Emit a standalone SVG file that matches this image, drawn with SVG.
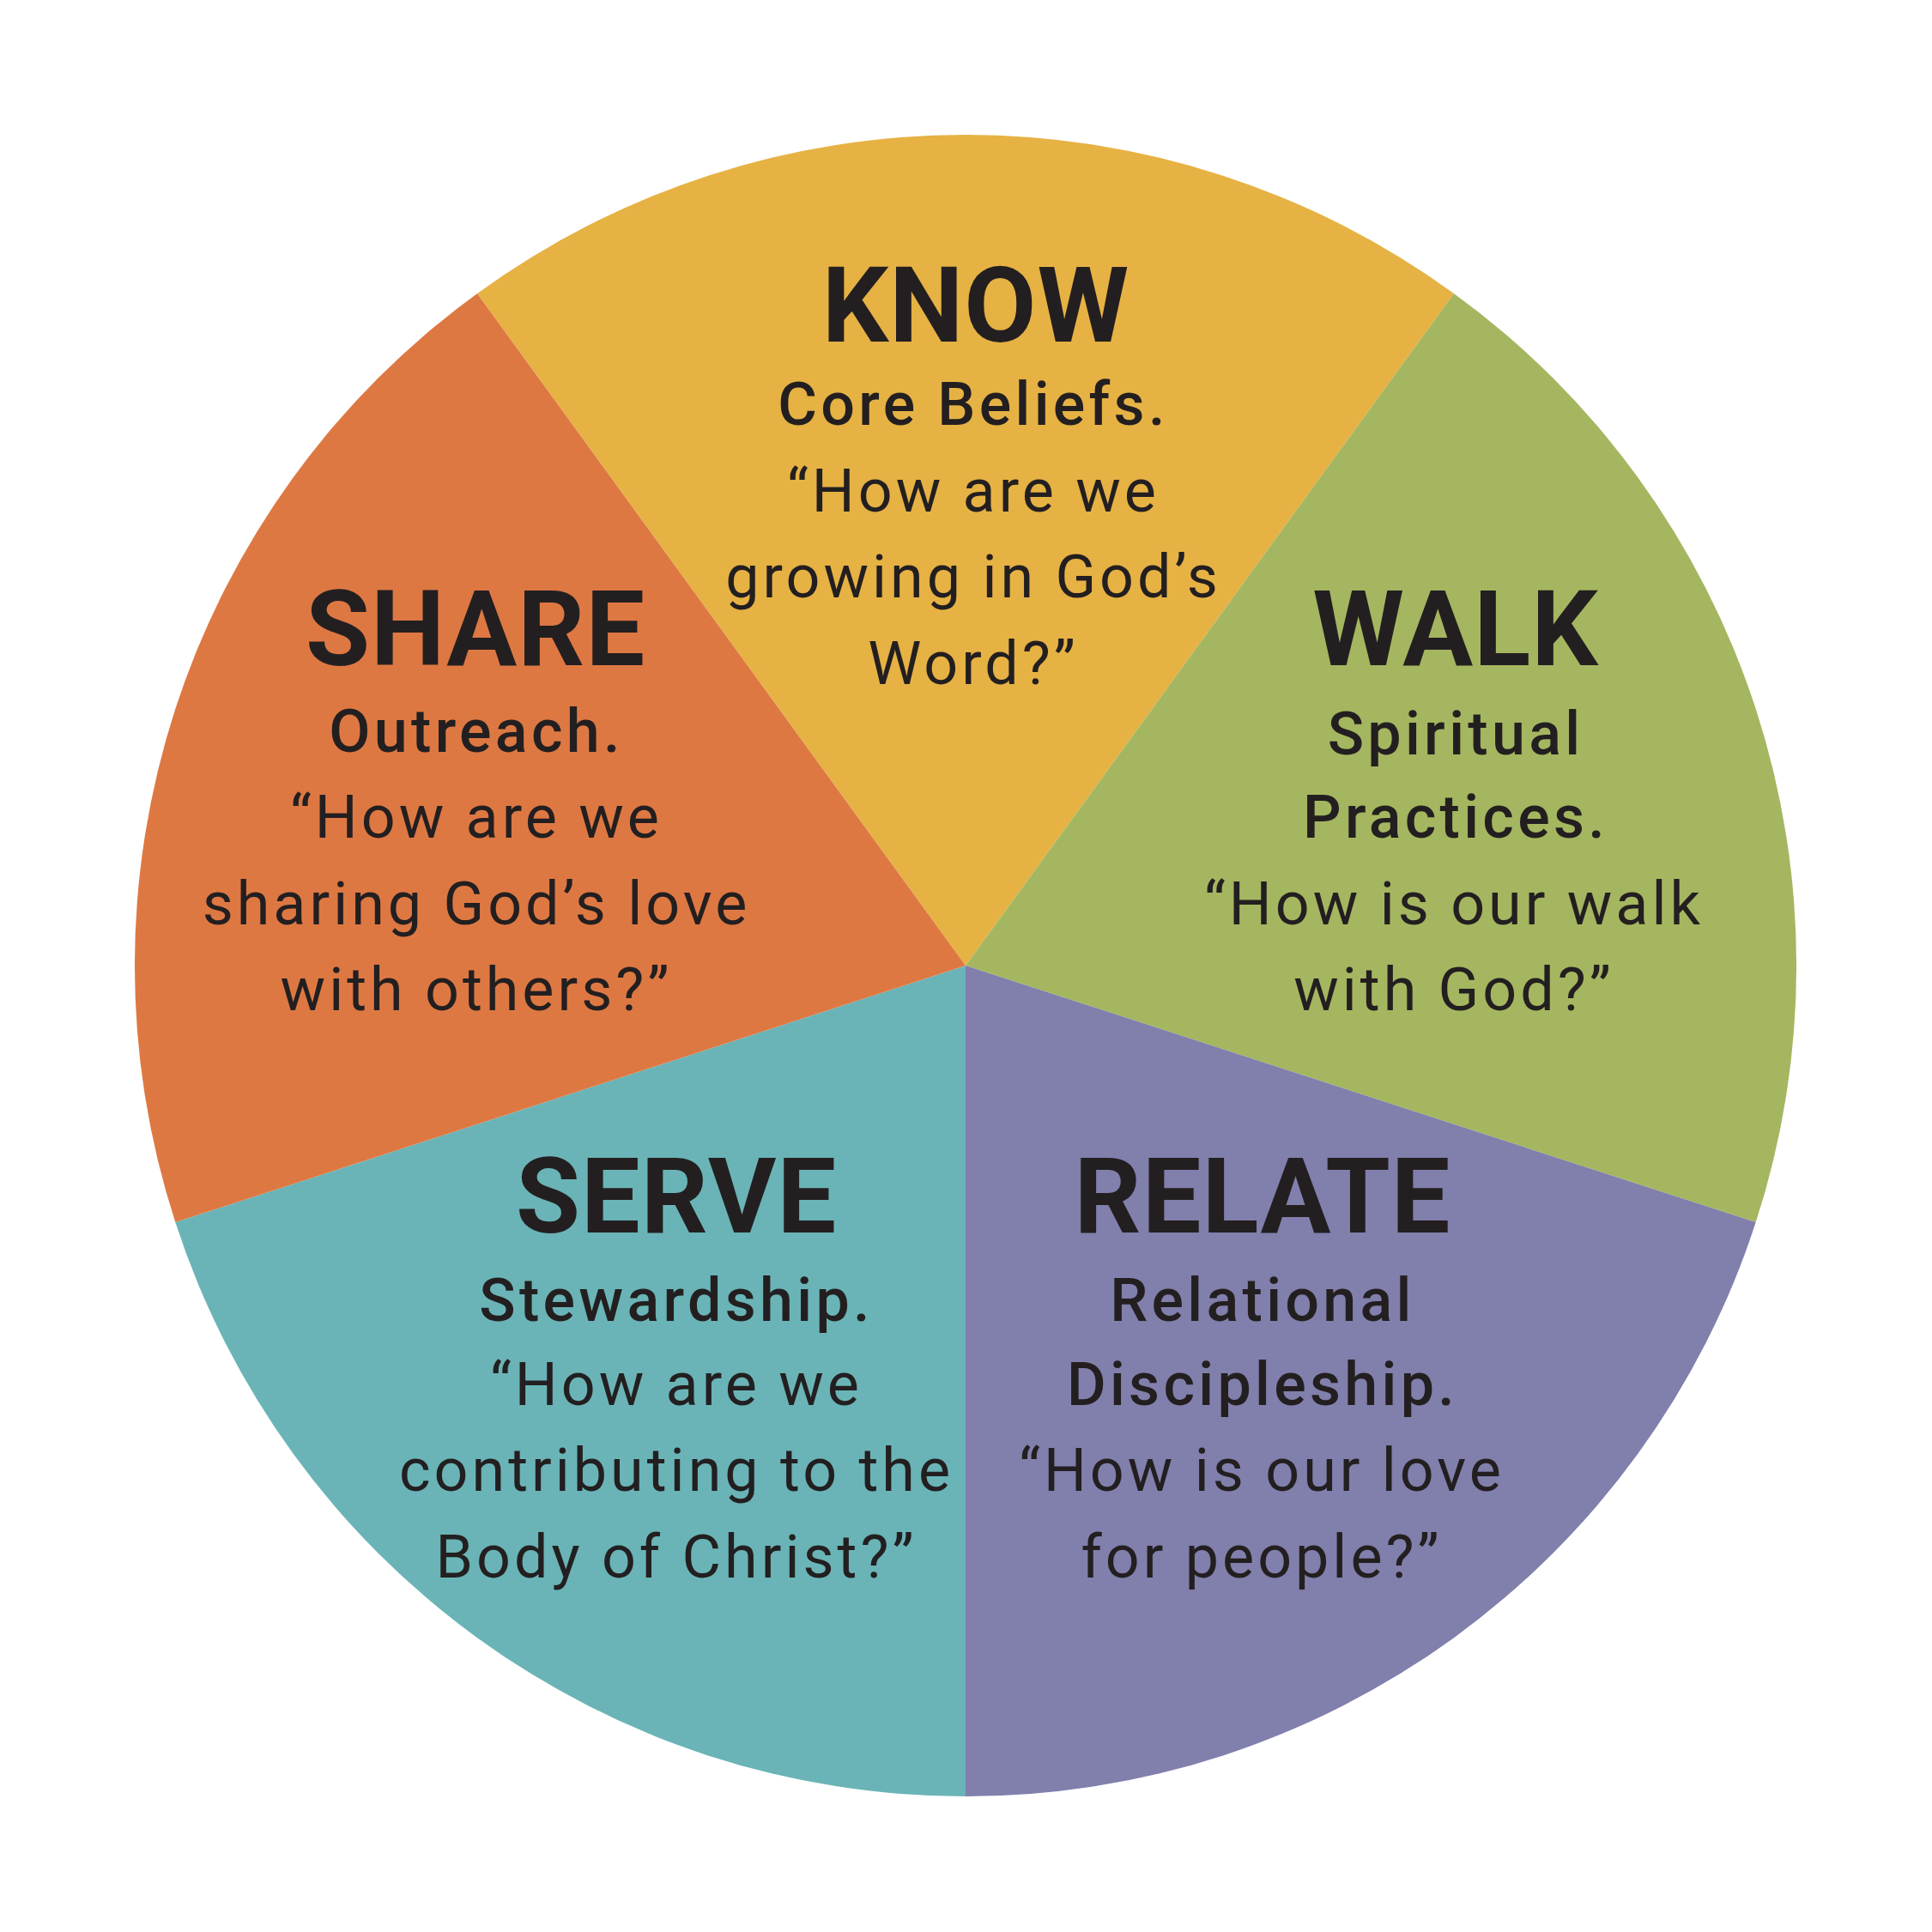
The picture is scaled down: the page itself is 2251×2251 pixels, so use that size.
<svg xmlns="http://www.w3.org/2000/svg" width="2251" height="2251" viewBox="0 0 2251 2251">
<style>
text{font-family:Roboto,"DejaVu Sans",sans-serif;fill:#231F20;text-anchor:middle}
.t{font-size:122px;font-weight:700;letter-spacing:1px}
.s{font-size:70px;font-weight:500;letter-spacing:4.3px}
.q{font-size:70px;font-weight:400;letter-spacing:4px}
</style>
<rect width="2251" height="2251" fill="#FFFFFF"/>
<g id="know">
<path d="M1125 1125 L556 341.9 A968 968 0 0 1 1694 341.9 Z" fill="#E6B244"/>
<text class="t" x="1137" y="398">KNOW</text>
<text class="s" x="1134" y="495">Core Beliefs.</text>
<text class="q" x="1134" y="596">“How are we</text>
<text class="q" x="1134" y="696">growing in God’s</text>
<text class="q" x="1134" y="797">Word?”</text>
</g>
<g id="walk">
<path d="M1125 1125 L1694 341.9 A968 968 0 0 1 2045.7 1424.1 Z" fill="#A5B660"/>
<text class="t" x="1696" y="775">WALK</text>
<text class="s" x="1696" y="879">Spiritual</text>
<text class="s" x="1696" y="976">Practices.</text>
<text class="q" x="1694" y="1077">“How is our walk</text>
<text class="q" x="1694" y="1177">with God?”</text>
</g>
<g id="relate">
<path d="M1125 1125 L2045.7 1424.1 A968 968 0 0 1 1125 2093 Z" fill="#817FAC"/>
<text class="t" x="1471" y="1436">RELATE</text>
<text class="s" x="1471" y="1539">Relational</text>
<text class="s" x="1471" y="1637">Discipleship.</text>
<text class="q" x="1470" y="1737">“How is our love</text>
<text class="q" x="1470" y="1838">for people?”</text>
</g>
<g id="serve">
<path d="M1125 1125 L1125 2093 A968 968 0 0 1 204.3 1424.1 Z" fill="#6AB4B7"/>
<text class="t" x="788" y="1436">SERVE</text>
<text class="s" x="788" y="1539">Stewardship.</text>
<text class="q" x="788" y="1637">“How are we</text>
<text class="q" x="788" y="1737">contributing to the</text>
<text class="q" x="788" y="1838">Body of Christ?”</text>
</g>
<g id="share">
<path d="M1125 1125 L204.3 1424.1 A968 968 0 0 1 556 341.9 Z" fill="#DE7843"/>
<text class="t" x="554" y="775">SHARE</text>
<text class="s" x="555" y="876">Outreach.</text>
<text class="q" x="555" y="976">“How are we</text>
<text class="q" x="555" y="1077">sharing God’s love</text>
<text class="q" x="555" y="1177">with others?”</text>
</g>
<g id="connectors"/>
</svg>
